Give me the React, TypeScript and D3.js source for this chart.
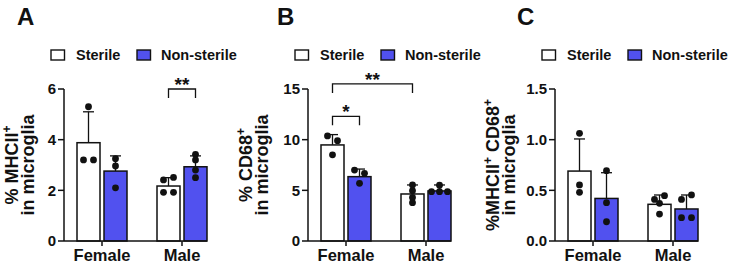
import React from "react";
import * as d3 from "d3";

// ---------- shared categories ----------
const groups = ["Female", "Male"];
const seriesNames = ["Sterile", "Non-sterile"];
const seriesFill = ["#ffffff", "#5151EF"];

// ---------- Panel A: % MHCII+ in microglia ----------
const aTicks = [0, 2, 4, 6];
const aSterileMean = [3.88, 2.17];
const aSterileSD = [1.22, 0.33];
const aNonMean = [2.76, 2.93];
const aNonSD = [0.6, 0.43];
const aSterilePts = [[5.3, 3.2, 3.2], [2.41, 2.51, 1.92, 1.92]];
const aNonPts = [[3.25, 2.96, 2.1], [3.42, 3.2, 2.8, 2.5]];
const aSig = [{ g1: "Male", s1: "Sterile", g2: "Male", s2: "Non-sterile", level: 6.0, label: "**" }];

// ---------- Panel B: % CD68+ in microglia ----------
const bTicks = [0, 5, 10, 15];
const bSterileMean = [9.48, 4.64];
const bSterileSD = [1.02, 0.89];
const bNonMean = [6.35, 4.94];
const bNonSD = [0.75, 0.59];
const bSterilePts = [[10.37, 9.9, 8.5], [5.53, 4.97, 4.3, 3.78]];
const bNonPts = [[7.0, 6.68, 5.69], [5.5, 4.87, 4.87, 4.87]];
const bSig = [
  { g1: "Female", s1: "Sterile", g2: "Male", s2: "Sterile", level: 15.5, label: "**" },
  { g1: "Female", s1: "Sterile", g2: "Female", s2: "Non-sterile", level: 12.3, label: "*" },
];

// ---------- Panel C: % MHCII+ CD68+ in microglia ----------
const cTicks = [0, 0.5, 1.0, 1.5];
const cSterileMean = [0.69, 0.362];
const cSterileSD = [0.317, 0.092];
const cNonMean = [0.42, 0.316];
const cNonSD = [0.254, 0.138];
const cSterilePts = [[1.063, 0.553, 0.48], [0.41, 0.447, 0.372, 0.266]];
const cNonPts = [[0.694, 0.378, 0.19], [0.41, 0.455, 0.23, 0.23]];
const cSig: any[] = [];

// ---------- layout ----------
const W = 730;
const H = 265;
const yTop = 89;
const yBottom = 241;
const FONT = "'Liberation Sans', Arial, Helvetica, sans-serif";
const INK = "#111";

type Seg = { t: string; sup?: boolean };

function LabelLine({ segs }: { segs: Seg[] }) {
  const out: any[] = [];
  let shifted = false;
  segs.forEach((s, i) => {
    if (s.sup) {
      out.push(
        <tspan key={i} dy={-7} fontSize={12}>
          {s.t}
        </tspan>
      );
      shifted = true;
    } else {
      out.push(
        <tspan key={i} dy={shifted ? 7 : 0}>
          {s.t}
        </tspan>
      );
      shifted = false;
    }
  });
  return <>{out}</>;
}

type PanelProps = {
  x0: number;
  letter: string;
  letterX: number;
  ticks: number[];
  fmt: (v: number) => string;
  label1: Seg[];
  labelOffset: number;
  means: number[][];
  sds: number[][];
  pts: number[][][];
  sig: any[];
};

function placeDots(vals: number[], y: (v: number) => number) {
  // group points into rows of nearly equal height, spread horizontally
  const idx = vals.map((_, i) => i).sort((a, b) => vals[b] - vals[a]);
  const rows: number[][] = [];
  let anchor = -1e9;
  idx.forEach((i) => {
    const py = y(vals[i]);
    if (rows.length && Math.abs(py - anchor) < 5) {
      rows[rows.length - 1].push(i);
    } else {
      rows.push([i]);
      anchor = py;
    }
  });
  const off: number[] = vals.map(() => 0);
  rows.forEach((r) => {
    r.sort((a, b) => a - b);
    const sp = r.length === 2 ? 10 : 8;
    r.forEach((i, k) => {
      off[i] = (k - (r.length - 1) / 2) * sp;
    });
  });
  return off;
}

function Panel(p: PanelProps) {
  const yMax = p.ticks[p.ticks.length - 1];
  const y = d3.scaleLinear().domain([0, yMax]).range([yBottom, yTop]);
  const xg = d3
    .scaleBand<string>()
    .domain(groups)
    .range([p.x0 + 13, p.x0 + 143])
    .paddingInner(0.375)
    .paddingOuter(0);
  const xs = d3
    .scaleBand<string>()
    .domain(seriesNames)
    .range([0, xg.bandwidth()])
    .paddingInner(4 / 27)
    .paddingOuter(0);
  const bw = xs.bandwidth();
  const cx = (g: string, s: string) => (xg(g) as number) + (xs(s) as number) + bw / 2;
  const xEnd = (xg(groups[groups.length - 1]) as number) + xg.bandwidth();
  const yMid = (yTop + yBottom) / 2;

  return (
    <g>
      <text x={p.letterX} y={25} fontSize={24} fontWeight="bold" fill={INK}>
        {p.letter}
      </text>

      {/* legend */}
      <g fontSize={14.5} fontWeight="bold" fill={INK}>
        <rect x={p.x0 - 13} y={50} width={13.5} height={10} fill={seriesFill[0]} stroke={INK} strokeWidth={1.4} />
        <text x={p.x0 + 12} y={59.5}>{seriesNames[0]}</text>
        <rect x={p.x0 + 73} y={50} width={13.5} height={10} fill={seriesFill[1]} stroke={INK} strokeWidth={1.4} />
        <text x={p.x0 + 97} y={59.5}>{seriesNames[1]}</text>
      </g>

      {/* y label */}
      <text
        transform={`translate(${p.x0 - p.labelOffset - 16},${yMid}) rotate(-90)`}
        textAnchor="middle"
        fontSize={18}
        fontWeight="bold"
        fill={INK}
      >
        <LabelLine segs={p.label1} />
      </text>
      <text
        transform={`translate(${p.x0 - p.labelOffset},${yMid}) rotate(-90)`}
        textAnchor="middle"
        fontSize={18}
        fontWeight="bold"
        fill={INK}
      >
        in microglia
      </text>

      {/* bars */}
      {groups.map((g, gi) =>
        seriesNames.map((s, si) => {
          const m = p.means[si][gi];
          const sd = p.sds[si][gi];
          const x = (xg(g) as number) + (xs(s) as number);
          const c = cx(g, s);
          const vals = p.pts[si][gi];
          const off = placeDots(vals, y);
          return (
            <g key={g + s}>
              <line x1={c} x2={c} y1={y(m)} y2={y(m + sd)} stroke={INK} strokeWidth={1.3} />
              <line x1={c - 5.5} x2={c + 5.5} y1={y(m + sd)} y2={y(m + sd)} stroke={INK} strokeWidth={1.3} />
              <rect
                x={x}
                y={y(m)}
                width={bw}
                height={y(0) - y(m)}
                fill={seriesFill[si]}
                stroke={INK}
                strokeWidth={1.5}
              />
              {vals.map((v, k) => (
                <circle key={k} cx={c + off[k]} cy={y(v)} r={3.4} fill={INK} />
              ))}
            </g>
          );
        })
      )}

      {/* y axis */}
      <line x1={p.x0} x2={p.x0} y1={yTop} y2={yBottom} stroke={INK} strokeWidth={1.5} />
      {p.ticks.map((t) => (
        <g key={t}>
          <line x1={p.x0 - 6} x2={p.x0} y1={y(t)} y2={y(t)} stroke={INK} strokeWidth={1.5} />
          <text
            x={p.x0 - 8}
            y={y(t)}
            dy="0.36em"
            textAnchor="end"
            fontSize={15}
            fontWeight="bold"
            fill={INK}
          >
            {p.fmt(t)}
          </text>
        </g>
      ))}

      {/* x axis */}
      <line x1={p.x0} x2={xEnd} y1={yBottom} y2={yBottom} stroke={INK} strokeWidth={1.5} />
      {groups.map((g) => {
        const c = (xg(g) as number) + xg.bandwidth() / 2;
        return (
          <g key={g}>
            <line x1={c} x2={c} y1={yBottom} y2={yBottom + 5} stroke={INK} strokeWidth={1.5} />
            <text x={c} y={261} textAnchor="middle" fontSize={16.5} fontWeight="bold" fill={INK}>
              {g}
            </text>
          </g>
        );
      })}

      {/* significance */}
      {p.sig.map((s, i) => {
        const xa = cx(s.g1, s.s1);
        const xb = cx(s.g2, s.s2);
        const yy = y(s.level);
        return (
          <g key={i}>
            <path
              d={`M${xa},${yy + 9}V${yy}H${xb}V${yy + 9}`}
              fill="none"
              stroke={INK}
              strokeWidth={1.3}
            />
            <text x={(xa + xb) / 2} y={yy + 2} textAnchor="middle" fontSize={19} fontWeight="bold" fill={INK}>
              {s.label}
            </text>
          </g>
        );
      })}
    </g>
  );
}

export default function App() {
  return (
    <svg
      width={W}
      height={H}
      viewBox={`0 0 ${W} ${H}`}
      style={{ position: "absolute", left: 0, top: 0, background: "#fff" }}
      fontFamily={FONT}
    >
      <rect x={0} y={0} width={W} height={H} fill="#fff" />
      <Panel
        x0={64}
        letter="A"
        letterX={17}
        ticks={aTicks}
        fmt={d3.format("d")}
        label1={[{ t: "% MHCII" }, { t: "+", sup: true }]}
        labelOffset={30}
        means={[aSterileMean, aNonMean]}
        sds={[aSterileSD, aNonSD]}
        pts={[aSterilePts, aNonPts]}
        sig={aSig}
      />
      <Panel
        x0={308}
        letter="B"
        letterX={277}
        ticks={bTicks}
        fmt={d3.format("d")}
        label1={[{ t: "% CD68" }, { t: "+", sup: true }]}
        labelOffset={40}
        means={[bSterileMean, bNonMean]}
        sds={[bSterileSD, bNonSD]}
        pts={[bSterilePts, bNonPts]}
        sig={bSig}
      />
      <Panel
        x0={555}
        letter="C"
        letterX={517}
        ticks={cTicks}
        fmt={d3.format(".1f")}
        label1={[{ t: "%MHCII" }, { t: "+", sup: true }, { t: " CD68" }, { t: "+", sup: true }]}
        labelOffset={40}
        means={[cSterileMean, cNonMean]}
        sds={[cSterileSD, cNonSD]}
        pts={[cSterilePts, cNonPts]}
        sig={cSig}
      />
    </svg>
  );
}
